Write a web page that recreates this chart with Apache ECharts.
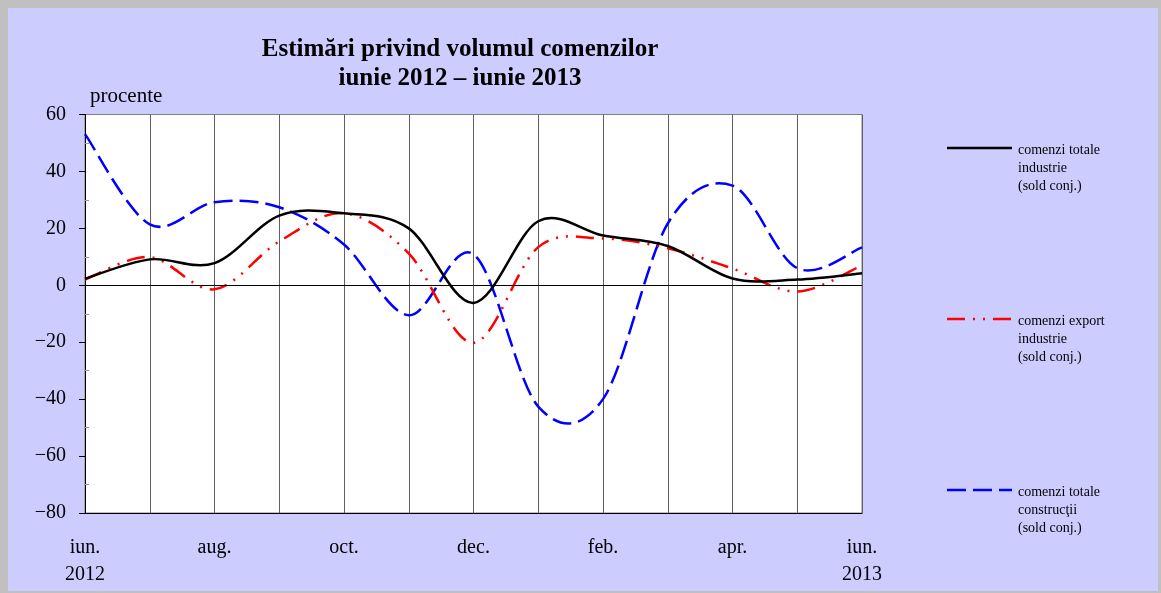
<!DOCTYPE html>
<html>
<head>
<meta charset="utf-8">
<script src="https://cdn.jsdelivr.net/npm/echarts@6/dist/echarts.min.js"></script>
<style>
html,body{margin:0;padding:0;background:#c0c0c0;width:1161px;height:593px;overflow:hidden;}
#chart{position:absolute;left:8px;top:8px;width:1150px;height:583px;}
</style>
</head>
<body>
<div id="chart"></div>
<script>
// Categories (months) and tick labels
const months = ['iun.\n2012','iul.','aug.','sep.','oct.','nov.','dec.','ian.','feb.','mar.','apr.','mai','iun.\n2013'];
const yTicks = [-80,-60,-40,-20,0,20,40,60];
const yMinorTicks = [-70,-50,-30,-10,10,30,50];

// Series values (percent, balance)
const totalIndustrie = [2.3, 9.1, 7.8, 24.5, 25.3, 20, -6.2, 22.5, 17.5, 13.8, 2.4, 2, 4.2];
const exportIndustrie = [2, 9.9, -1.4, 15.4, 25.3, 11.2, -20.2, 13.4, 16.4, 13, 5.9, -2.2, 7];
const totalConstructii = [53.1, 21.4, 29.2, 27.4, 14.3, -10.5, 10.9, -42.6, -40, 21.7, 35, 6, 13.3];

const seriesNames = ['comenzi totale\nindustrie\n(sold conj.)', 'comenzi export\nindustrie\n(sold conj.)', 'comenzi totale\nconstrucţii\n(sold conj.)'];
const titleText = 'Estimări privind volumul comenzilor\niunie 2012 – iunie 2013';

const serif = '"Liberation Serif","Times New Roman",serif';
const chart = echarts.init(document.getElementById('chart'));

const redDash = [18, 8, 2, 8, 2, 8];
const blueDash = [19, 7];

// Smoothed line (Catmull-Rom, as in spreadsheet smoothed lines) through the
// points placed by the chart's own axes via api.coord.
function smoothSeries(name, values, color, dash, z) {
  return {
    name: name, type: 'custom', z: z, yAxisIndex: 0,
    data: values.map((v, i) => [i, v]),
    encode: {x: 0, y: 1},
    renderItem: function (params, api) {
      if (params.dataIndex !== 0) return null;
      const p = values.map((v, i) => api.coord([i, v]));
      let d = 'M' + p[0][0] + ' ' + p[0][1];
      for (let i = 0; i < p.length - 1; i++) {
        const p0 = p[i - 1] || p[i], p1 = p[i], p2 = p[i + 1], p3 = p[i + 2] || p[i + 1];
        const c1x = p1[0] + (p2[0] - p0[0]) / 6, c1y = p1[1] + (p2[1] - p0[1]) / 6;
        const c2x = p2[0] - (p3[0] - p1[0]) / 6, c2y = p2[1] - (p3[1] - p1[1]) / 6;
        d += ' C' + c1x + ' ' + c1y + ' ' + c2x + ' ' + c2y + ' ' + p2[0] + ' ' + p2[1];
      }
      return {
        type: 'path',
        shape: {pathData: d},
        style: {fill: 'none', stroke: color, lineWidth: 2.5, lineDash: dash, lineCap: 'butt'}
      };
    }
  };
}

function legendItem(y, color, dash, name) {
  return [
    {type:'line', shape:{x1:939, y1:y, x2:1004, y2:y},
     style:{stroke:color, lineWidth:2.5, lineDash: dash}},
    {type:'text', left:1010, top:y-7,
     style:{text:name, font:'14px ' + serif, fill:'#000', lineHeight:18, textVerticalAlign:'top'}}
  ];
}

chart.setOption({
  backgroundColor:'#ccccff',
  animation:false,
  title:{
    text:titleText, left:447, top:22, textAlign:'center',
    textStyle:{fontFamily:serif, fontSize:25, fontWeight:'bold', color:'#000', lineHeight:29}
  },
  grid:{left:77, top:106.5, right:296, bottom:78, show:true, backgroundColor:'#fff', borderColor:'#808080', borderWidth:1},
  xAxis:{
    type:'category', data:months, boundaryGap:false,
    axisLine:{onZero:false, lineStyle:{color:'#000', width:1}},
    axisTick:{show:false},
    axisLabel:{interval:1, margin:21, fontFamily:serif, fontSize:20, color:'#000', lineHeight:27},
    splitLine:{show:true, interval:0, lineStyle:{color:'#606060', width:1}}
  },
  yAxis:[{
    type:'value', min:-80, max:60, interval:20,
    name:'procente', nameLocation:'end', nameGap:18,
    nameTextStyle:{fontFamily:serif, fontSize:21, color:'#000', align:'left', verticalAlign:'middle', padding:[0,0,0,5]},
    axisLine:{show:true, lineStyle:{color:'#000', width:1}},
    axisTick:{show:true, length:6, lineStyle:{color:'#000'}},
    axisLabel:{margin:19, fontFamily:serif, fontSize:20, color:'#000',
      formatter: v => yTicks.includes(v) ? (v < 0 ? '\u2212' + Math.abs(v) : String(v)) : ''},
    splitLine:{show:false}
  }, {
    type:'value', min:-80, max:60, interval:10, position:'left', offset:0,
    axisLine:{show:false},
    axisTick:{show:true, inside:true, length:4, customValues:yMinorTicks, lineStyle:{color:'#999'}},
    axisLabel:{show:false},
    splitLine:{show:false}
  }],
  series:[
    {name:'zero', type:'line', data:[], silent:true, z:1,
     markLine:{silent:true, symbol:'none', label:{show:false}, animation:false,
       lineStyle:{color:'#000', width:1, type:'solid'}, data:[{yAxis:0}]}},
    smoothSeries(seriesNames[2], totalConstructii, '#0000ff', blueDash, 2),
    smoothSeries(seriesNames[1], exportIndustrie, '#ff0000', redDash, 3),
    smoothSeries(seriesNames[0], totalIndustrie, '#000000', null, 4)
  ],
  graphic:[].concat(
    legendItem(140, '#000', null, seriesNames[0]),
    legendItem(311, '#ff0000', redDash, seriesNames[1]),
    legendItem(482, '#0000ff', blueDash, seriesNames[2])
  )
});
</script>
</body>
</html>
